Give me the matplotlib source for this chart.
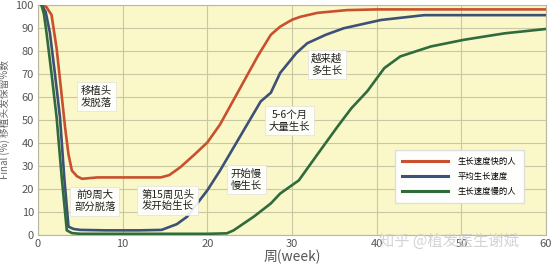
import numpy as np
import matplotlib.pyplot as plt

plt.rcParams['font.family'] = ['Noto Sans CJK SC', 'DejaVu Sans']

# curves (week, % kept)
fast_x = [0.4, 1.0, 1.6, 2.2, 2.7, 3.2, 3.6, 4.0, 4.6, 5.2, 7, 10, 12, 14.5, 15.5, 16.8, 18.5, 20, 21.5, 23, 24.5, 26, 27.5, 28.6, 30, 31, 33, 36.5, 40, 50, 60]
fast_y = [100, 99, 95.6, 81, 64, 46.7, 35, 28, 25.5, 24.4, 25, 25, 25, 25, 26, 29.4, 35, 40.2, 48, 58, 68, 78, 87, 90.5, 93.5, 94.8, 96.5, 97.7, 98, 98, 98]

avg_x = [0.4, 0.9, 1.4, 2.0, 2.6, 3.1, 3.6, 4.2, 5.0, 8, 12, 14.6, 16.4, 17.6, 20, 21.5, 23.1, 26.3, 27.5, 28.6, 29.4, 30.5, 31.8, 34, 36.1, 40.5, 45.6, 50, 60]
avg_y = [100, 97, 88, 70, 51, 25, 3.6, 2.6, 2.2, 2, 2, 2.2, 4.7, 7.9, 19.4, 28, 38, 58, 61.8, 70.4, 74, 79, 83.3, 87, 89.8, 93.4, 95.5, 95.5, 95.5]

slow_x = [0.4, 0.7, 1.0, 1.6, 2.2, 2.8, 3.4, 4.0, 5.0, 10, 15, 20, 22.3, 23.1, 25.5, 27.5, 28.6, 30.8, 33, 35.3, 37, 38.9, 40.9, 42.8, 46.4, 50.3, 55.1, 60]
slow_y = [100, 96, 88, 70, 51, 25, 2, 0.8, 0.5, 0.5, 0.5, 0.5, 0.7, 2, 8, 13.7, 18, 23.7, 35, 46.7, 55, 62.5, 72.5, 77.6, 81.9, 84.8, 87.6, 89.5]

series_names = ['生长速度快的人', '平均生长速度', '生长速度慢的人']
series_colors = ['#c9502e', '#3d5178', '#2f6b3c']

notes = ['移植头\n发脱落', '前9周大\n部分脱落', '第15周见头\n发开始生长', '开始慢\n慢生长', '5-6个月\n大量生长', '越来越\n多生长']
note_x = [6.9, 6.7, 15.3, 24.6, 29.7, 34.1]
note_y = [60, 14.7, 15, 24, 49.6, 74]

fig = plt.figure(figsize=(5.54, 2.67), dpi=100)
ax = fig.add_axes([0.0686, 0.12, 0.917, 0.862])
ax.set_facecolor('#faf8c8')

for xs, ys, name, c in zip([fast_x, avg_x, slow_x], [fast_y, avg_y, slow_y], series_names, series_colors):
    ax.plot(xs, ys, color=c, lw=1.9, label=name, zorder=3)

for t, x, y in zip(notes, note_x, note_y):
    ax.text(x, y, t, ha='center', va='center', fontsize=7.5, color='#222222',
            fontweight='medium', linespacing=1.2, zorder=4,
            bbox=dict(boxstyle='square,pad=0.35', fc='white', ec='#dddddd', lw=0.5, alpha=0.9))

ax.set_xlim(0, 60)
ax.set_ylim(0, 100)
ax.set_xticks(range(0, 61, 10))
ax.set_yticks(range(0, 101, 10))
ax.grid(True, color='#c8c8a4', lw=0.8, zorder=0)
ax.set_axisbelow(True)
ax.tick_params(length=0, labelsize=8, labelcolor='#555555', pad=3)
for s in ax.spines.values():
    s.set_color('#b8b8a0')
    s.set_linewidth(0.8)

ax.set_xlabel('周(week)', fontsize=10, color='#555555', labelpad=0)
ax.set_ylabel('Final (%) 移植头发保留%数', fontsize=7, color='#666666', labelpad=4)

leg = ax.legend(loc='lower right', bbox_to_anchor=(0.965, 0.12), fontsize=6,
                frameon=True, fancybox=False, handlelength=5.5, handletextpad=1.2,
                borderpad=0.9, labelspacing=0.7)
leg.get_frame().set_facecolor('white')
leg.get_frame().set_edgecolor('#dddddd')
leg.get_frame().set_alpha(0.95)
for line in leg.get_lines():
    line.set_linewidth(2.2)

fig.text(0.81, 0.095, '知乎 @植发医生谢斌', fontsize=11, color='#cfcfcf',
         ha='center', va='center', alpha=0.9)

plt.savefig('out.png', dpi=100)
